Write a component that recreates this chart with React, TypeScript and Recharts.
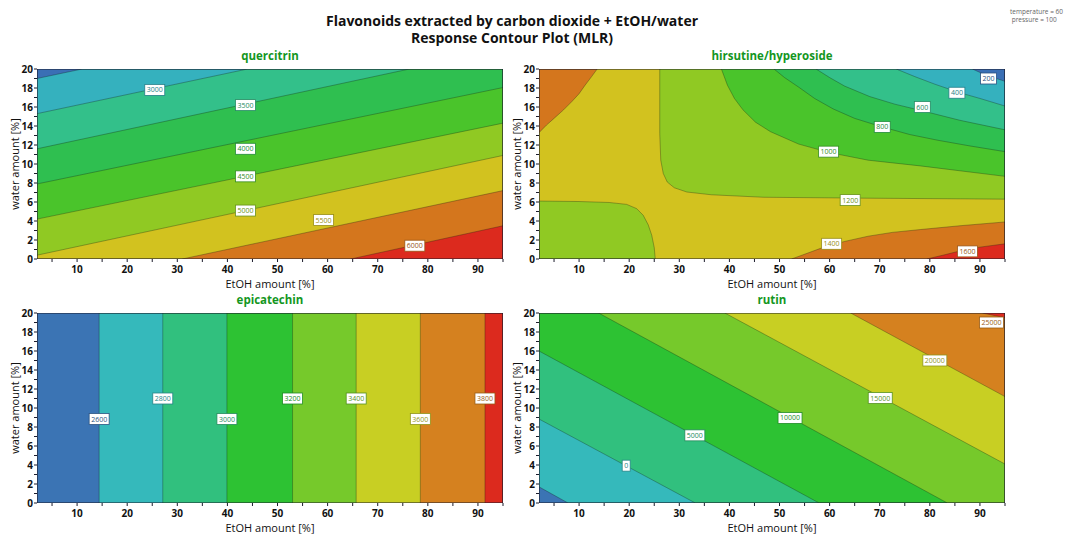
import React from "react";
import { Scatter, ScatterChart, XAxis, YAxis } from "recharts";

type Pt = [number, number];

const xDomain: Pt = [2, 95];
const yDomain: Pt = [0, 20];
const xTicks = [5, 10, 15, 20, 25, 30, 35, 40, 45, 50, 55, 60, 65, 70, 75, 80, 85, 90, 95];
const yTicks = [0, 1, 2, 3, 4, 5, 6, 7, 8, 9, 10, 11, 12, 13, 14, 15, 16, 17, 18, 19, 20];

// colour bands, low -> high
const palette9 = ["#3a6fb5", "#35b1be", "#33c08a", "#2fbf50", "#4ac42b", "#90c923", "#d2c21f", "#d4761d", "#dc2a1e"];
const palette8 = ["#3b74b4", "#35b9bb", "#31c07e", "#2dc233", "#76c92b", "#c8cf23", "#d5811f", "#dc2a1e"];

// quercitrin
const quercitrinLevels = [2500, 3000, 3500, 4000, 4500, 5000, 5500, 6000];
const quercitrinLines: Pt[][] = [
  [[2, 19.0], [11.0, 20]],
  [[2, 15.3], [44.0, 20]],
  [[2, 11.6], [76.3, 20]],
  [[2, 7.9], [95, 18.05]],
  [[2, 4.2], [95, 14.3]],
  [[2, 0.4], [95, 10.9]],
  [[31.0, 0], [95, 7.2]],
  [[64.6, 0], [95, 3.5]],
];
const quercitrinCorners: Pt[][] = [
  [[95, 20], [95, 0], [2, 0]],
  [[95, 20], [95, 0], [2, 0]],
  [[95, 20], [95, 0], [2, 0]],
  [[95, 0], [2, 0]],
  [[95, 0], [2, 0]],
  [[95, 0], [2, 0]],
  [[95, 0]],
  [[95, 0]],
];
const quercitrinBands = [1, 2, 3, 4, 5, 6, 7, 8];
const quercitrinLabelPos: (Pt | null)[] = [
  null, [25.5, 17.8], [43.6, 16.2], [43.6, 11.6], [43.6, 8.7], [43.6, 5.1], [59.2, 4.1], [77.4, 1.4],
];

// hirsutine/hyperoside
const hirsutineLevels = [200, 400, 600, 800, 1000, 1200, 1400, 1600];
const hirsutineLines: Pt[][] = [
  [[2, 6.1], [10, 6.05], [16, 5.95], [19.5, 5.75], [21.5, 5.3], [22.8, 4.6], [23.8, 3.6], [24.5, 2.5], [25.0, 1.2], [25.2, 0]],
  [[26.1, 20], [26.1, 13.2], [26.3, 10.4], [26.8, 9.0], [27.6, 8.1], [29.0, 7.5], [31.5, 7.05], [36.4, 6.76], [46.8, 6.5], [67.7, 6.4], [95, 6.3]],
  [[38.4, 20], [39.6, 18.3], [41.0, 16.9], [42.7, 15.7], [45.2, 14.4], [48.2, 13.4], [53.8, 12.1], [60, 11.2], [67.7, 10.4], [78.1, 9.8], [95, 8.7]],
  [[48.9, 20], [51.0, 19.1], [53.8, 18.1], [57.0, 16.9], [60.7, 15.8], [65.0, 14.8], [70.5, 13.9], [76.0, 13.1], [81.6, 12.5], [88.0, 11.9], [95, 11.3]],
  [[57.3, 20], [60.0, 19.1], [63.0, 18.2], [68.0, 17.1], [73.0, 16.3], [78.5, 15.6], [86.0, 14.6], [95, 13.6]],
  [[73.3, 20], [77.0, 19.2], [81.0, 18.4], [86.0, 17.5], [90.0, 16.9], [95, 16.1]],
  [[88.5, 20], [91.0, 19.4], [95, 18.7]],
  [[2, 13.3], [3.5, 14.1], [5.1, 14.85], [6.9, 15.7], [8.6, 16.6], [10.0, 17.4], [11.2, 18.3], [12.5, 19.2], [13.6, 20]],
  [[52.4, 0], [55.0, 0.5], [58.6, 1.2], [63.0, 1.85], [67.7, 2.4], [72.5, 2.8], [78.1, 3.1], [86.0, 3.5], [95, 3.9]],
  [[79.4, 0], [83.0, 0.45], [86.0, 0.85], [90.0, 1.25], [95, 1.6]],
];
const hirsutineCorners: Pt[][] = [
  [[2, 0]],
  [[95, 20]],
  [[95, 20]],
  [[95, 20]],
  [[95, 20]],
  [[95, 20]],
  [[95, 20]],
  [[2, 20]],
  [[95, 0]],
  [[95, 0]],
];
const hirsutineBands = [5, 5, 4, 3, 2, 1, 0, 7, 7, 8];
const hirsutineLabelPos: (Pt | null)[] = [
  [91.7, 19.0], [85.4, 17.5], [78.5, 16.0], [70.5, 13.9], [59.8, 11.3], [64.1, 6.2], [60.4, 1.6], [87.5, 0.8],
];

// epicatechin
const epicatechinLevels = [2600, 2800, 3000, 3200, 3400, 3600, 3800];
const epicatechinLines: Pt[][] = [
  [[14.4, 0], [14.4, 20]],
  [[27.1, 0], [27.1, 20]],
  [[39.9, 0], [39.9, 20]],
  [[53.0, 0], [53.0, 20]],
  [[65.7, 0], [65.7, 20]],
  [[78.5, 0], [78.5, 20]],
  [[91.4, 0], [91.4, 20]],
];
const epicatechinCorners: Pt[][] = epicatechinLines.map((): Pt[] => [[95, 20], [95, 0]]);
const epicatechinBands = [1, 2, 3, 4, 5, 6, 7];
const epicatechinLabelPos: (Pt | null)[] = [
  [14.4, 8.84], [27.1, 11.0], [39.9, 8.84], [53.0, 11.0], [65.7, 11.0], [78.5, 8.84], [91.4, 11.0],
];

// rutin
const rutinLevels = [-5000, 0, 5000, 10000, 15000, 20000, 25000];
const rutinLines: Pt[][] = [
  [[2, 1.7], [7.8, 0]],
  [[2, 8.84], [33.2, 0]],
  [[2, 16.0], [57.9, 0]],
  [[13.9, 20], [83.5, 0]],
  [[39.1, 20], [95, 4.1]],
  [[64.2, 20], [95, 11.2]],
  [[90.5, 20], [95, 19.5]],
];
const rutinCorners: Pt[][] = [
  [[95, 0], [95, 20], [2, 20]],
  [[95, 0], [95, 20], [2, 20]],
  [[95, 0], [95, 20], [2, 20]],
  [[95, 0], [95, 20]],
  [[95, 20]],
  [[95, 20]],
  [[95, 20]],
];
const rutinBands = [1, 2, 3, 4, 5, 6, 7];
const rutinLabelPos: (Pt | null)[] = [
  null, [19.4, 3.93], [33.1, 7.12], [52.1, 8.95], [70.1, 11.05], [81.0, 15.0], [92.3, 19.0],
];

const FONT = "'Open Sans', 'Noto Sans', sans-serif";
const AXIS = "#1c1c2c";
const CONTOUR = "rgba(20,30,20,0.45)";

const shade = (hex: string, f = 0.72) => {
  const n = parseInt(hex.slice(1), 16);
  return `rgb(${Math.round(((n >> 16) & 255) * f)},${Math.round(((n >> 8) & 255) * f)},${Math.round((n & 255) * f)})`;
};

const toXY = ([x, y]: Pt) => ({ x, y });
const noDot = () => <g />;

const LabelBox = (props: any) => {
  const { cx, cy, payload } = props;
  const w = payload.text.length * 4 + 4;
  return (
    <g>
      <rect x={cx - w / 2} y={cy - 5.5} width={w} height={11} fill="#fff" stroke={payload.color} strokeWidth={0.8} />
      <text x={cx} y={cy} dy="0.36em" textAnchor="middle" fontSize={7} fill={payload.color} style={{ fontFamily: FONT }}>
        {payload.text}
      </text>
    </g>
  );
};

const XTick = (props: any) => {
  const { x, y, payload } = props;
  if (payload.value % 10 !== 0) return <g />;
  return (
    <text x={x} y={y} dy="0.71em" textAnchor="middle" fontSize={10} fontWeight="bold" fill="#111">
      {payload.value}
    </text>
  );
};

const YTick = (props: any) => {
  const { x, y, payload } = props;
  if (payload.value % 2 !== 0) return <g />;
  return (
    <text x={x} y={y} dy="0.36em" textAnchor="end" fontSize={10} fontWeight="bold" fill="#111">
      {payload.value}
    </text>
  );
};

interface PanelProps {
  left: number;
  top: number;
  title: string;
  palette: string[];
  background: number;
  levels: number[];
  lines: Pt[][];
  corners: Pt[][];
  bands: number[];
  labelPos: (Pt | null)[];
}

function ContourPanel({ left, top, title, palette, background, levels, lines, corners, bands, labelPos }: PanelProps) {
  const box: Pt[] = [[xDomain[0], yDomain[0]], [xDomain[1], yDomain[0]], [xDomain[1], yDomain[1]], [xDomain[0], yDomain[1]]];
  const regions = lines.map((ln, i) => ({ data: [...ln, ...corners[i]].map(toXY), color: palette[bands[i]] }));
  const labels = levels
    .map((lv, i) => {
      const p = labelPos[i];
      return p ? { x: p[0], y: p[1], text: String(lv), color: shade(palette[i]) } : null;
    })
    .filter(Boolean);

  return (
    <div style={{ position: "absolute", left, top, width: 520, height: 240 }}>
      <div
        style={{
          position: "absolute",
          left: 37,
          width: 466,
          top: -11,
          textAlign: "center",
          color: "#14961e",
          fontWeight: "bold",
          fontSize: 11.5,
          lineHeight: "14px",
        }}
      >
        {title}
      </div>
      <ScatterChart width={520} height={240} margin={{ top: 9, right: 17, bottom: 0, left: 0 }}>
        <XAxis
          type="number"
          dataKey="x"
          domain={xDomain}
          ticks={xTicks}
          interval={0}
          allowDataOverflow
          axisLine={false}
          tickLine={{ stroke: AXIS }}
          tickSize={3}
          tickMargin={4}
          height={41}
          tick={XTick}
          label={{ value: "EtOH amount [%]", position: "insideBottom", offset: 12, style: { fontSize: 11, fill: "#111" } }}
        />
        <YAxis
          type="number"
          dataKey="y"
          domain={yDomain}
          ticks={yTicks}
          interval={0}
          allowDataOverflow
          axisLine={false}
          tickLine={{ stroke: AXIS }}
          tickSize={3}
          tickMargin={1}
          width={37}
          tick={YTick}
          label={{
            value: "water amount [%]",
            angle: -90,
            position: "insideLeft",
            offset: 15,
            style: { fontSize: 11, fill: "#111", textAnchor: "middle" },
          }}
        />
        <Scatter data={box.map(toXY)} shape={noDot} line={{ fill: palette[background], stroke: "none" }} isAnimationActive={false} />
        {regions.map((r, i) => (
          <Scatter
            key={i}
            data={r.data}
            shape={noDot}
            line={{ fill: r.color, stroke: CONTOUR, strokeWidth: 0.7 }}
            isAnimationActive={false}
          />
        ))}
        <Scatter
          data={[...box, box[0]].map(toXY)}
          shape={noDot}
          line={{ fill: "none", stroke: AXIS, strokeWidth: 1.2 }}
          isAnimationActive={false}
        />
        <Scatter data={labels as any[]} shape={LabelBox} isAnimationActive={false} />
      </ScatterChart>
    </div>
  );
}

export default function App() {
  return (
    <div
      style={{
        position: "absolute",
        left: 0,
        top: 0,
        width: 1066,
        height: 539,
        overflow: "hidden",
        background: "#fff",
        fontFamily: FONT,
      }}
    >
      <div
        style={{
          position: "absolute",
          left: 0,
          width: 1024,
          top: 12,
          textAlign: "center",
          fontWeight: "bold",
          fontSize: 14,
          lineHeight: "17px",
          color: "#111",
        }}
      >
        <div>Flavonoids extracted by carbon dioxide + EtOH/water</div>
        <div>Response Contour Plot (MLR)</div>
      </div>
      <div style={{ position: "absolute", left: 1010, top: 8, fontSize: 6.5, lineHeight: "7.5px", color: "#666" }}>
        <div>temperature = 60</div>
        <div>&nbsp;pressure = 100</div>
      </div>
      <ContourPanel
        left={0}
        top={60}
        title="quercitrin"
        palette={palette9}
        background={0}
        levels={quercitrinLevels}
        lines={quercitrinLines}
        corners={quercitrinCorners}
        bands={quercitrinBands}
        labelPos={quercitrinLabelPos}
      />
      <ContourPanel
        left={502}
        top={60}
        title="hirsutine/hyperoside"
        palette={palette9}
        background={6}
        levels={hirsutineLevels}
        lines={hirsutineLines}
        corners={hirsutineCorners}
        bands={hirsutineBands}
        labelPos={hirsutineLabelPos}
      />
      <ContourPanel
        left={0}
        top={304}
        title="epicatechin"
        palette={palette8}
        background={0}
        levels={epicatechinLevels}
        lines={epicatechinLines}
        corners={epicatechinCorners}
        bands={epicatechinBands}
        labelPos={epicatechinLabelPos}
      />
      <ContourPanel
        left={502}
        top={304}
        title="rutin"
        palette={palette8}
        background={0}
        levels={rutinLevels}
        lines={rutinLines}
        corners={rutinCorners}
        bands={rutinBands}
        labelPos={rutinLabelPos}
      />
    </div>
  );
}
